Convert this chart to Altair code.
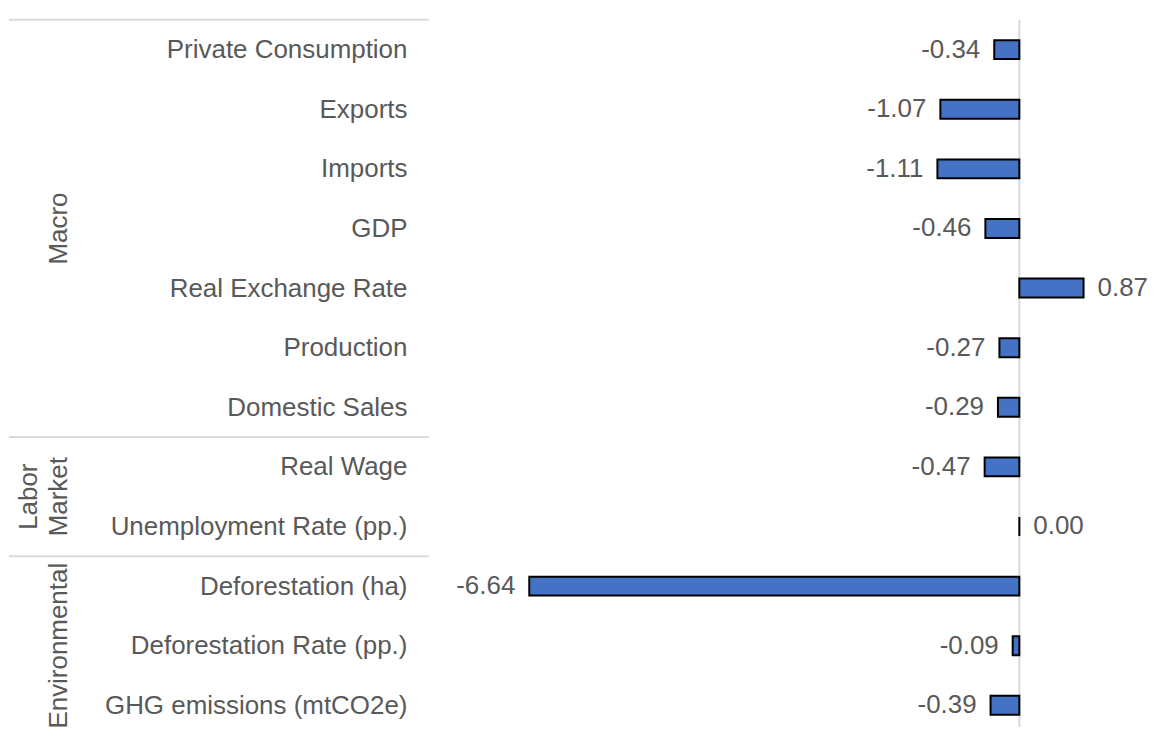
import altair as alt
import pandas as pd

items = [
    "Private Consumption", "Exports", "Imports", "GDP", "Real Exchange Rate",
    "Production", "Domestic Sales", "Real Wage", "Unemployment Rate (pp.)",
    "Deforestation (ha)", "Deforestation Rate (pp.)", "GHG emissions (mtCO2e)",
]
groups = ["Macro"] * 7 + ["Labor Market"] * 2 + ["Environmental"] * 3
values = [-0.34, -1.07, -1.11, -0.46, 0.87, -0.27, -0.29, -0.47, 0.00, -6.64, -0.09, -0.39]

df = pd.DataFrame({"idx": list(range(len(items))), "item": items, "group": groups, "value": values})
df["label"] = [f"{v:.2f}" for v in values]
df["zero"] = 0.0
df_neg = df[df["value"] < 0]
df_pos = df[df["value"] >= 0]

# group label table derived from the groups list
group_names = list(dict.fromkeys(groups))
grows = []
for g in group_names:
    idxs = [i for i, gg in enumerate(groups) if gg == g]
    words = g.split(" ")
    center = sum(idxs) / len(idxs)
    for k, w in enumerate(words):
        grows.append({"word": w, "center": center, "slot": k + (2 - len(words)),
                      "start": min(idxs) - 0.5})
gdf = pd.DataFrame(grows)
g_first = gdf[gdf["slot"] == 0]
g_last = gdf[gdf["slot"] == 1]

FONT = "Liberation Sans"
GRAY = "#595959"
LINE = "#D9D9D9"
FS = 26

# layout of the scales
STEP = 60.6
H = 725
W = 705
PPU = 74.0
y0 = -0.5 - 6 / STEP
y1 = y0 + H / STEP
xmin = -8
xmax = xmin + W / PPU

yscale = alt.Scale(domain=[y0, y1], reverse=True, nice=False, zero=False)
xscale = alt.Scale(domain=[xmin, xmax], nice=False, zero=False)

zdf = pd.DataFrame({"z": [0.0], "top": [-0.5], "bot": [y1]})

label_js = "[" + ",".join("'" + s + "'" for s in items) + "][datum.value]"


def y_axis():
    return alt.Axis(
        title=None, domain=False, ticks=False, grid=False, values=list(range(len(items))),
        labelExpr=label_js, labelFont=FONT, labelFontSize=FS, labelColor=GRAY,
        labelPadding=22, labelLimit=500,
    )


def X(field):
    return alt.X(field, scale=xscale, axis=None)


def Y(field):
    return alt.Y(field, scale=yscale, axis=y_axis())


bars = alt.Chart(df).mark_bar(size=19, strokeWidth=2, fill="#4472C4", stroke="black").encode(
    y=Y("idx:Q"),
    x=X("value:Q"),
    x2=alt.X2("zero:Q"),
)

zero = alt.Chart(zdf).mark_rule(color=LINE, strokeWidth=2).encode(
    x=X("z:Q"),
    y=Y("top:Q"),
    y2=alt.Y2("bot:Q"),
)

neg_lbl = alt.Chart(df_neg).mark_text(
    align="right", baseline="middle", dx=-14, font=FONT, fontSize=FS, color=GRAY
).encode(y=Y("idx:Q"), x=X("value:Q"), text="label:N")

pos_lbl = alt.Chart(df_pos).mark_text(
    align="left", baseline="middle", dx=14, font=FONT, fontSize=FS, color=GRAY
).encode(y=Y("idx:Q"), x=X("value:Q"), text="label:N")

sep = alt.Chart(g_last).mark_rule(color=LINE, strokeWidth=2).encode(
    y=Y("start:Q"),
    x=alt.value(-421),
    x2=alt.value(0),
)

g0 = alt.Chart(g_first).mark_text(
    angle=270, align="center", baseline="alphabetic", font=FONT, fontSize=FS, color=GRAY,
).encode(y=Y("center:Q"), x=alt.value(-393), text="word:N")

g1 = alt.Chart(g_last).mark_text(
    angle=270, align="center", baseline="alphabetic", font=FONT, fontSize=FS, color=GRAY,
).encode(y=Y("center:Q"), x=alt.value(-363), text="word:N")

chart = alt.layer(
    zero, sep, bars, neg_lbl, pos_lbl, g0, g1
).properties(
    width=W, height=H, padding=0,
).configure_view(strokeWidth=0)

chart.save("out.html", embed_options={"renderer": "svg", "actions": False})
